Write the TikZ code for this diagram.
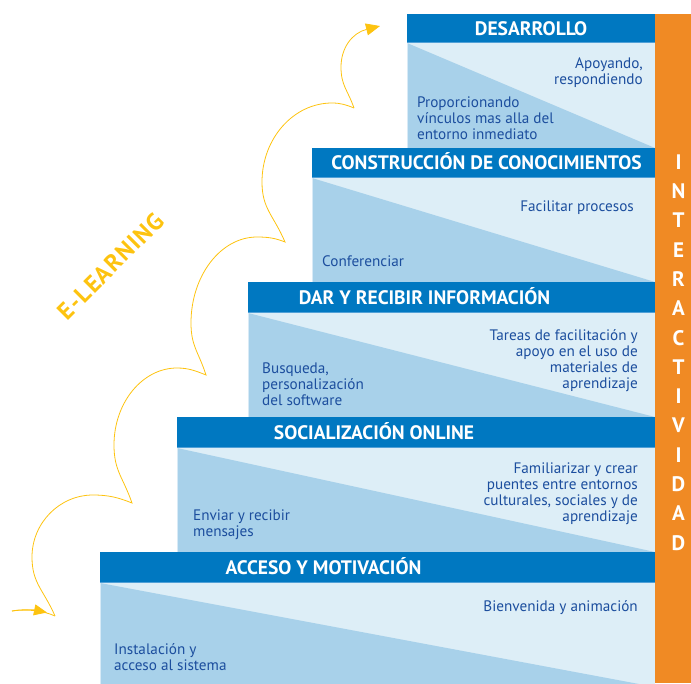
\documentclass[tikz,border=0pt]{standalone}
\usepackage{fontspec}
\setmainfont{PT Sans}
\usetikzlibrary{arrows.meta}
\definecolor{hdrblue}{RGB}{0,120,193}
\definecolor{hdredge}{RGB}{80,160,215}
\definecolor{bodylight}{RGB}{221,238,247}
\definecolor{bodydark}{RGB}{168,209,234}
\definecolor{txtblue}{RGB}{28,78,158}
\definecolor{barorange}{RGB}{240,138,36}
\definecolor{elyellow}{RGB}{253,195,16}
\tikzset{
  hdrtext/.style={text=white, font=\fontsize{19.5}{22}\selectfont\bfseries, inner sep=0pt, anchor=base},
  bodytext/.style={text=txtblue, font=\fontsize{15.2}{16}\selectfont, inner sep=0pt},
  rtext/.style={bodytext, align=right, anchor=east},
  ltext/.style={bodytext, align=left, anchor=west},
  barletters/.style={text=white, font=\fontsize{21}{29.3}\selectfont\bfseries, align=center, inner sep=0pt, anchor=center},
  wave/.style={draw=elyellow, line width=0.8pt},
  eltext/.style={text=elyellow, font=\fontsize{24}{26}\selectfont\bfseries\addfontfeature{LetterSpace=5}, rotate=45, inner sep=0pt}
}
\begin{document}
\begin{tikzpicture}[x=1pt,y=-1pt]
\useasboundingbox (0,0) rectangle (691,683);
\clip (0,0) rectangle (691,683);
% steps: left, header top, header bottom, body bottom
\foreach \l/\t/\h/\b in {407/13.5/43/148, 312/148/178/282, 248/282/313/417, 177/417/448/552, 100/552/583/687}{
  \fill[bodylight] (\l,\h) rectangle (655,\b);
  \fill[bodydark] (\l,\h) -- (\l,\b) -- (655,\b) -- cycle;
  \draw[white!55!bodydark, line width=0.8pt] (\l+0.4,\h) -- (\l+0.4,\b);
  \fill[hdrblue] (\l,\t) rectangle (655,\h);
  \draw[hdredge, line width=0.7pt] (\l,\h-0.35) -- (655,\h-0.35);
}
% orange bar
\fill[barorange] (655,14) rectangle (691,683);
\node[barletters] (bar) at (678.5,352.5) {I\\N\\T\\E\\R\\A\\C\\T\\I\\V\\I\\D\\A\\D};
% headers
\node[hdrtext] (h5) at (531,35) {DESARROLLO};
\node[hdrtext] (h4) at (486.5,169.7) {CONSTRUCCIÓN DE CONOCIMIENTOS};
\node[hdrtext] (h3) at (424.5,304.2) {DAR Y RECIBIR INFORMACIÓN};
\node[hdrtext] (h2) at (374,439.2) {SOCIALIZACIÓN ONLINE};
\node[hdrtext] (h1) at (323.5,574.2) {ACCESO Y MOTIVACIÓN};
% body texts
\node[rtext] (r5) at (643,73) {Apoyando,\\respondiendo};
\node[ltext] (l5) at (417,118.5) {Proporcionando\\vínculos mas alla del\\entorno inmediato};
\node[rtext] (r4) at (634,208) {Facilitar procesos};
\node[ltext] (l4) at (322,261.5) {Conferenciar};
\node[rtext] (r3) at (638,360.5) {Tareas de facilitación y\\apoyo en el uso de\\materiales de\\aprendizaje};
\node[ltext] (l3) at (262,384.5) {Busqueda,\\personalización\\del software};
\node[rtext] (r2) at (638,493.5) {Familiarizar y crear\\puentes entre entornos\\culturales, sociales y de\\aprendizaje};
\node[ltext] (l2) at (193,524.5) {Enviar y recibir\\mensajes};
\node[rtext] (r1) at (638,607.5) {Bienvenida y animación};
\node[ltext] (l1) at (114,657.5) {Instalación y\\acceso al sistema};
% E-LEARNING
\node[eltext] (el) at (111,266) {E-LEARNING};
% wave
\coordinate (w0) at (12,611);
\coordinate (a1) at (55,616);
\coordinate (a2) at (132,503);
\coordinate (a3) at (206,375);
\coordinate (a4) at (285,242);
\coordinate (a5) at (354,108);
\coordinate (wend) at (380,26);
\draw[wave] (w0) .. controls (25,609) and (42,610) .. (a1);
\draw[wave, -{Triangle[length=13pt,width=11pt]}] (w0) .. controls (22,609) and (35,610) .. (47,612.5);
\draw[wave]
  (a1) .. controls (43.5,589.5) and (32,583.5) .. (32,557)
       .. controls (32,523) and (59.5,495) .. (93,495)
       .. controls (108.6,495) and (118.3,497.5) .. (a2)
       .. controls (123,477) and (114,471) .. (114,445)
       .. controls (114,402.6) and (142.4,368) .. (177,368)
       .. controls (188.6,368) and (195.8,370.9) .. (a3)
       .. controls (198.5,351.6) and (191,346.4) .. (191,323)
       .. controls (191,275.7) and (220.7,237) .. (257,237)
       .. controls (268.2,237) and (275.2,238.1) .. (a4)
       .. controls (273.5,215) and (262,209) .. (262,182)
       .. controls (262,138.5) and (293.5,103) .. (332,103)
       .. controls (340.8,103) and (346.3,104.9) .. (a5);
\draw[wave, -{Triangle[length=14pt,width=12pt]}]
  (a5) .. controls (347.5,89.5) and (341,85.5) .. (341,67)
       .. controls (341,48) and (352,33) .. (wend);
\end{tikzpicture}
\end{document}
